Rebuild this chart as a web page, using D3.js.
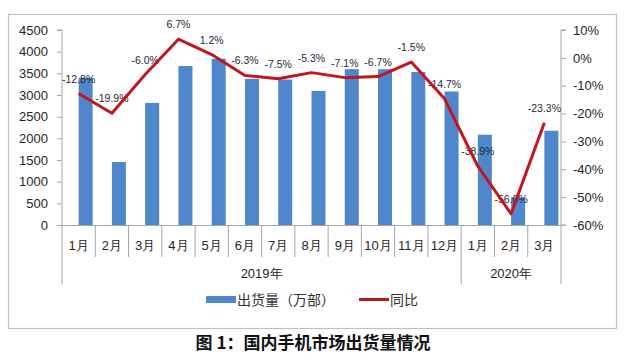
<!DOCTYPE html>
<html><head><meta charset="utf-8">
<script src="https://cdn.jsdelivr.net/npm/d3@7"></script>
<style>
html,body{margin:0;padding:0;background:#fff;}
svg{display:block;font-family:"Liberation Sans",Arial,sans-serif;}
</style></head>
<body><svg id="c" width="640" height="359"></svg>
<script>
const months = ["1月","2月","3月","4月","5月","6月","7月","8月","9月","10月","11月","12月","1月","2月","3月"];
const years = [{label:"2019年", from:0, to:12},{label:"2020年", from:12, to:15}];
const shipments = [3397, 1454, 2816, 3668, 3835, 3374, 3356, 3094, 3597, 3595, 3530, 3080, 2083, 638, 2175];
const yoy = [-12.8, -19.9, -6.0, 6.7, 1.2, -6.3, -7.5, -5.3, -7.1, -6.7, -1.5, -14.7, -38.9, -56.0, -23.3];
const leftTicks = [0,500,1000,1500,2000,2500,3000,3500,4000,4500];
const rightTicks = [10,0,-10,-20,-30,-40,-50,-60];
const legendLabels = ["出货量（万部）","同比"];
const title = "图 1：国内手机市场出货量情况";

const svg = d3.select("#c");
const X0 = 62, X1 = 561, YB = 225, YT = 30;
const barColor = "#4f86cc", lineColor = "#c0171f", axisColor = "#a6a6a6", textColor = "#262626";

// frame
svg.append("rect").attr("x",8.5).attr("y",14.5).attr("width",608).attr("height",314)
  .attr("fill","none").attr("stroke","#bfbfbf").attr("stroke-width",1.2);

const x = d3.scaleBand().domain(d3.range(months.length)).range([X0, X1]).paddingInner(0).paddingOuter(0);
const yL = d3.scaleLinear().domain([0,4500]).range([YB, YT]);
const yR = d3.scaleLinear().domain([-60,10]).range([YB, YT]);

// left axis
const gl = svg.append("g").attr("transform",`translate(${X0},0)`)
  .call(d3.axisLeft(yL).tickValues(leftTicks).tickSize(5).tickPadding(9).tickFormat(d3.format("d")));
gl.select(".domain").attr("stroke",axisColor).attr("d",`M-5,${YT}H0V${YB}`);
gl.selectAll(".tick line").attr("stroke",axisColor);
gl.selectAll(".tick text").attr("font-size",13).attr("fill",textColor).attr("font-family","Liberation Sans,Arial,sans-serif");

// right axis
const gr = svg.append("g").attr("transform",`translate(${X1},0)`)
  .call(d3.axisRight(yR).tickValues(rightTicks).tickSize(5).tickPadding(7).tickFormat(d=>d+"%"));
gr.select(".domain").attr("stroke",axisColor).attr("d",`M5,${YT}H0V${YB}H5`);
gr.selectAll(".tick line").attr("stroke",axisColor);
gr.selectAll(".tick text").attr("font-size",13).attr("fill",textColor).attr("font-family","Liberation Sans,Arial,sans-serif");

// category axis baseline
svg.append("line").attr("x1",X0-5).attr("x2",X1).attr("y1",YB+0.5).attr("y2",YB+0.5).attr("stroke",axisColor);

// category separators
const bounds = d3.range(months.length+1);
const yearBounds = new Set([0,12,15]);
svg.append("g").selectAll("line").data(bounds).join("line")
  .attr("x1",i=> i===months.length ? X1 : x(i)).attr("x2",i=> i===months.length ? X1 : x(i))
  .attr("y1",YB).attr("y2",i=> yearBounds.has(i) ? 284 : 257)
  .attr("stroke",axisColor).attr("stroke-width",1);

// category labels
svg.append("g").selectAll("text").data(months).join("text")
  .attr("x",(d,i)=>x(i)+x.bandwidth()/2).attr("y",250)
  .attr("text-anchor","middle").attr("font-size",13).attr("fill",textColor)
  .text(d=>d);

// year labels
svg.append("g").selectAll("text").data(years).join("text")
  .attr("x",d=>(x(d.from) + (d.to===months.length ? X1 : x(d.to)))/2).attr("y",278)
  .attr("text-anchor","middle").attr("font-size",13).attr("fill",textColor)
  .text(d=>d.label);

// bars
svg.append("g").selectAll("rect").data(shipments).join("rect")
  .attr("x",(d,i)=>x(i)+x.bandwidth()/2).attr("width",14)
  .attr("y",d=>yL(d)).attr("height",d=>YB-yL(d))
  .attr("fill",barColor);

// value labels
svg.append("g").selectAll("text").data(yoy).join("text")
  .attr("x",(d,i)=>x(i)+x.bandwidth()/2).attr("y",d=>yR(d)-11)
  .attr("text-anchor","middle").attr("font-size",10.5).attr("fill","#1f2a3a")
  .text(d=>d.toFixed(1)+"%");

// line
const line = d3.line().x((d,i)=>x(i)+x.bandwidth()/2).y(d=>yR(d));
svg.append("path").datum(yoy).attr("d",line).attr("fill","none")
  .attr("stroke",lineColor).attr("stroke-width",3).attr("stroke-linejoin","round");

// legend
const lg = svg.append("g");
lg.append("rect").attr("x",206).attr("y",296).attr("width",30).attr("height",7).attr("fill",barColor);
lg.append("text").attr("x",237).attr("y",305).attr("font-size",14).attr("fill","#333")
  .attr("font-family","Noto Sans CJK SC").text(legendLabels[0]);
lg.append("line").attr("x1",359).attr("x2",389).attr("y1",299.5).attr("y2",299.5)
  .attr("stroke",lineColor).attr("stroke-width",3);
lg.append("text").attr("x",390).attr("y",305).attr("font-size",14).attr("fill","#333")
  .attr("font-family","Noto Sans CJK SC").text(legendLabels[1]);

// title
svg.append("text").attr("x",313).attr("y",349).attr("text-anchor","middle")
  .attr("font-size",17).attr("font-weight","bold").attr("fill","#111")
  .attr("font-family","Noto Sans CJK SC").text(title);
</script></body></html>
